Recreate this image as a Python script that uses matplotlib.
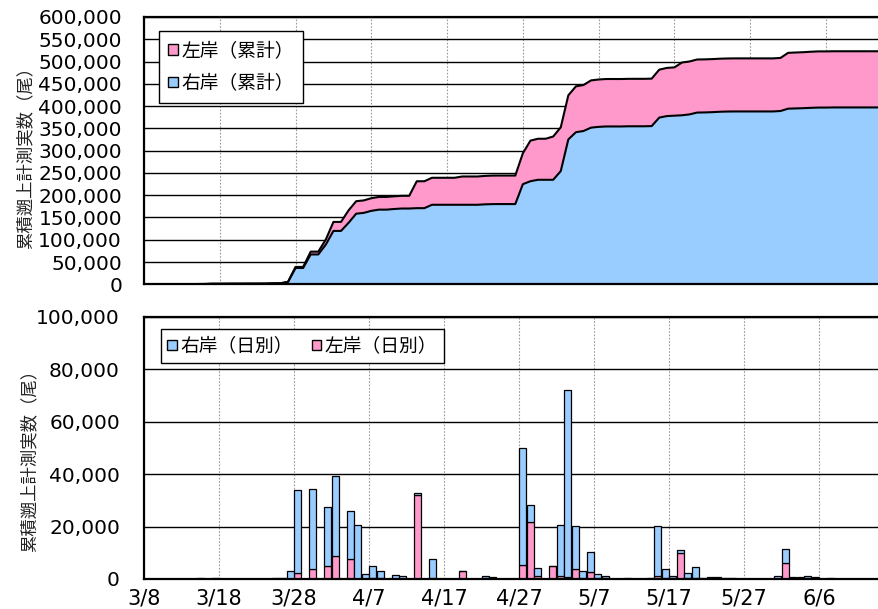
import numpy as np
import matplotlib
matplotlib.use("Agg")
import matplotlib.pyplot as plt
from matplotlib.patches import Patch

# ---------------- data (3/8 .. 6/13, daily) ----------------
tick_labels = ["3/8", "3/18", "3/28", "4/7", "4/17", "4/27", "5/7", "5/17", "5/27", "6/6"]

right_daily = [
    0, 100, 100, 100, 0, 0, 100, 200, 100, 500,
    0, 100, 100, 0, 100, 0, 100, 500, 200, 2900,
    31400, 0, 30400, 0, 22300, 30500, 0, 18200, 20500, 1800,
    4600, 2700, 0, 1400, 1100, 0, 800, 0, 7600, 0,
    0, 0, 0, 0, 0, 1000, 500, 100, 0, 0,
    44700, 6600, 3200, 0, 0, 19500, 71100, 16200, 2700, 7600,
    1700, 900, 0, 0, 400, 0, 0, 400, 19100, 3400,
    900, 900, 2000, 4100, 300, 600, 900, 500, 200, 0,
    0, 0, 0, 0, 1000, 5200, 600, 500, 800, 600,
    0, 300, 0, 0, 0, 0, 0, 0,
]
left_daily = [
    0, 0, 0, 0, 0, 0, 0, 0, 0, 0,
    0, 0, 0, 0, 0, 0, 0, 0, 0, 0,
    2400, 0, 3900, 0, 5000, 8900, 0, 7800, 0, 0,
    300, 200, 0, 0, 0, 0, 31900, 0, 200, 0,
    0, 0, 2900, 0, 0, 300, 200, 0, 0, 0,
    5300, 21800, 1000, 0, 5000, 1100, 800, 3900, 300, 2800,
    300, 200, 0, 0, 0, 0, 0, 0, 1100, 500,
    300, 10000, 400, 300, 0, 0, 0, 0, 0, 0,
    0, 0, 0, 0, 0, 6200, 200, 200, 200, 200,
    0, 0, 0, 0, 0, 0, 0, 0,
]

BLUE = "#99CCFF"
PINK = "#FF99CC"
CJK = ["Noto Sans CJK JP", "DejaVu Sans"]
NUM = "DejaVu Sans"

right = np.array(right_daily, dtype=float)
left = np.array(left_daily, dtype=float)
n = len(right)
days = np.arange(n)
cum_right = np.cumsum(right)
cum_total = cum_right + np.cumsum(left)

W, H = 879, 609
fig = plt.figure(figsize=(W / 100, H / 100), dpi=100)

def ax_rect(x0, y0, x1, y1):
    return [x0 / W, 1 - y1 / H, (x1 - x0) / W, (y1 - y0) / H]

ax1 = fig.add_axes(ax_rect(144, 17, 879, 284.3))
ax2 = fig.add_axes(ax_rect(144, 316.7, 879, 579))

# ---------------- top: cumulative areas ----------------
ax1.fill_between(days, 0, cum_right, color=BLUE, lw=0, zorder=2)
ax1.fill_between(days, cum_right, cum_total, color=PINK, lw=0, zorder=2)
ax1.plot(days, cum_right, color="black", lw=1.5, zorder=3)
ax1.plot(days, cum_total, color="black", lw=1.5, zorder=3)
ax1.set_xlim(0, n - 1)
ax1.set_ylim(0, 600000)
yt1 = np.arange(0, 600001, 50000)
ax1.set_yticks(yt1)
ax1.set_yticklabels([f"{v:,}" for v in yt1], fontsize=14.5, family=NUM)
ax1.set_xticks(np.arange(0, n, 10))
ax1.set_xticklabels([])
ax1.tick_params(axis="y", length=0, pad=15.8)

# ---------------- bottom: daily stacked bars ----------------
ax2.bar(days + 0.5, left, width=0.95, bottom=0, color=PINK,
        edgecolor="black", linewidth=0.9, zorder=2)
ax2.bar(days + 0.5, right, width=0.95, bottom=left, color=BLUE,
        edgecolor="black", linewidth=0.9, zorder=2)
ax2.set_xlim(0, n)
ax2.set_ylim(0, 100000)
yt2 = np.arange(0, 100001, 20000)
ax2.set_yticks(yt2)
ax2.set_yticklabels([f"{v:,}" for v in yt2], fontsize=14.5, family=NUM)
ax2.set_xticks(np.arange(0, 91, 10))
ax2.set_xticklabels(tick_labels, fontsize=15, family=NUM)
ax2.tick_params(axis="y", length=0, pad=17.3)

for ax in (ax1, ax2):
    ax.set_axisbelow(True)
    ax.yaxis.grid(True, color="black", lw=1.0)
    ax.xaxis.grid(True, color="#9A9A9A", lw=0.8, ls=(0, (1.5, 1.5)))
    ax.tick_params(axis="x", length=0, pad=7)
    for s in ("left", "top", "bottom"):
        ax.spines[s].set_linewidth(1.6)
        ax.spines[s].set_color("black")
    ax.spines["right"].set_visible(False)
    ax.set_facecolor("white")

# ---------------- legends ----------------
h_left_c = Patch(facecolor=PINK, edgecolor="black", lw=1.0)
h_right_c = Patch(facecolor=BLUE, edgecolor="black", lw=1.0)
leg1 = ax1.legend([h_left_c, h_right_c], ["左岸（累計）", "右岸（累計）"],
                  loc="upper left", bbox_to_anchor=(0.0204, 0.948),
                  borderaxespad=0, prop={"family": CJK, "size": 13.5},
                  handlelength=0.5, handleheight=0.5, handletextpad=0.2,
                  labelspacing=0.6, borderpad=0.5, fancybox=False,
                  framealpha=1, edgecolor="black")
leg1.get_frame().set_linewidth(1.0)
leg1.set_zorder(5)

h_right_d = Patch(facecolor=BLUE, edgecolor="black", lw=1.0)
h_left_d = Patch(facecolor=PINK, edgecolor="black", lw=1.0)
leg2 = ax2.legend([h_right_d, h_left_d], ["右岸（日別）", "左岸（日別）"],
                  loc="upper left", bbox_to_anchor=(0.023, 0.953),
                  borderaxespad=0, ncol=2, prop={"family": CJK, "size": 13.5},
                  handlelength=0.5, handleheight=0.5, handletextpad=0.2,
                  columnspacing=1.0, borderpad=0.35, fancybox=False,
                  framealpha=1, edgecolor="black")
leg2.get_frame().set_linewidth(1.0)
leg2.set_zorder(5)

# ---------------- y-axis titles ----------------
ylab = "累積遡上計測実数（尾）"
fig.text(25 / W, 1 - 153 / H, ylab, rotation=90, ha="center", va="center",
         family=CJK, fontsize=12.5, color="#222222")
fig.text(29 / W, 1 - 456 / H, ylab, rotation=90, ha="center", va="center",
         family=CJK, fontsize=12.5, color="#222222")

fig.savefig("out.png", dpi=100, facecolor="white")
